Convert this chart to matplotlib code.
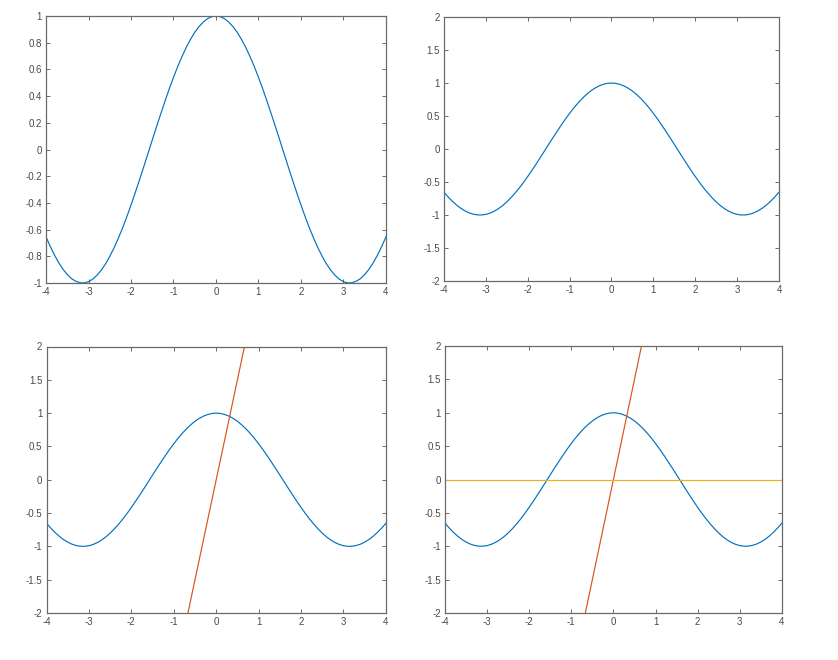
import matplotlib
matplotlib.use("Agg")
import matplotlib.pyplot as plt

# Curve values (x step 0.1 from -4 to 4)
x_vals = [-4.0, -3.9, -3.8, -3.7, -3.6, -3.5, -3.4, -3.3, -3.2, -3.1,
          -3.0, -2.9, -2.8, -2.7, -2.6, -2.5, -2.4, -2.3, -2.2, -2.1,
          -2.0, -1.9, -1.8, -1.7, -1.6, -1.5, -1.4, -1.3, -1.2, -1.1,
          -1.0, -0.9, -0.8, -0.7, -0.6, -0.5, -0.4, -0.3, -0.2, -0.1,
          0.0,
          0.1, 0.2, 0.3, 0.4, 0.5, 0.6, 0.7, 0.8, 0.9, 1.0,
          1.1, 1.2, 1.3, 1.4, 1.5, 1.6, 1.7, 1.8, 1.9, 2.0,
          2.1, 2.2, 2.3, 2.4, 2.5, 2.6, 2.7, 2.8, 2.9, 3.0,
          3.1, 3.2, 3.3, 3.4, 3.5, 3.6, 3.7, 3.8, 3.9, 4.0]
curve_vals = [-0.654, -0.726, -0.791, -0.848, -0.897, -0.936, -0.967, -0.987, -0.998, -0.999,
              -0.990, -0.971, -0.942, -0.904, -0.857, -0.801, -0.737, -0.666, -0.589, -0.505,
              -0.416, -0.323, -0.227, -0.129, -0.029, 0.071, 0.170, 0.267, 0.362, 0.454,
              0.540, 0.622, 0.697, 0.765, 0.825, 0.878, 0.921, 0.955, 0.980, 0.995,
              1.000,
              0.995, 0.980, 0.955, 0.921, 0.878, 0.825, 0.765, 0.697, 0.622, 0.540,
              0.454, 0.362, 0.267, 0.170, 0.071, -0.029, -0.129, -0.227, -0.323, -0.416,
              -0.505, -0.589, -0.666, -0.737, -0.801, -0.857, -0.904, -0.942, -0.971, -0.990,
              -0.999, -0.998, -0.987, -0.967, -0.936, -0.897, -0.848, -0.791, -0.726, -0.654]

# Steep line endpoints (clipped by the axes limits)
steep_x = [-4.0, 4.0]
steep_y = [-12.0, 12.0]

# Horizontal line
flat_x = [-4.0, 4.0]
flat_y = [0.0, 0.0]

xticks = [-4, -3, -2, -1, 0, 1, 2, 3, 4]
yticks_tl = [-1, -0.8, -0.6, -0.4, -0.2, 0, 0.2, 0.4, 0.6, 0.8, 1]
yticks_other = [-2, -1.5, -1, -0.5, 0, 0.5, 1, 1.5, 2]

BLUE = "#0072BD"
RED = "#D95319"
YELLOW = "#EDB120"
AX_COL = "#6a6a6a"
TXT_COL = "#4a4a4a"
LW = 0.85

plt.rcParams['font.family'] = ['Liberation Sans', 'DejaVu Sans']

fig = plt.figure(figsize=(8.38, 6.6), dpi=100)

rects = [
    [0.0549, 0.5712, 0.4057, 0.4045],
    [0.5298, 0.5742, 0.3998, 0.4000],
    [0.0555, 0.0712, 0.4050, 0.4038],
    [0.5310, 0.0712, 0.4020, 0.4045],
]

def fmt(v):
    return "%g" % v

def style(ax, yticks, ylim):
    ax.set_xlim(-4, 4)
    ax.set_ylim(*ylim)
    ax.set_xticks(xticks)
    ax.set_xticklabels([fmt(t) for t in xticks])
    ax.set_yticks(yticks)
    ax.set_yticklabels([fmt(t) for t in yticks])
    for sp in ax.spines.values():
        sp.set_color(AX_COL)
        sp.set_linewidth(0.9)
    ax.tick_params(direction='in', length=3, width=0.7, colors=AX_COL,
                   labelcolor=TXT_COL, labelsize=7, top=True, right=True, pad=3)

axes = [fig.add_axes(r) for r in rects]

ax = axes[0]
ax.plot(x_vals, curve_vals, color=BLUE, lw=LW)
style(ax, yticks_tl, (-1, 1))

ax = axes[1]
ax.plot(x_vals, curve_vals, color=BLUE, lw=LW)
style(ax, yticks_other, (-2, 2))

ax = axes[2]
ax.plot(x_vals, curve_vals, color=BLUE, lw=LW)
ax.plot(steep_x, steep_y, color=RED, lw=LW)
style(ax, yticks_other, (-2, 2))

ax = axes[3]
ax.plot(x_vals, curve_vals, color=BLUE, lw=LW)
ax.plot(steep_x, steep_y, color=RED, lw=LW)
ax.plot(flat_x, flat_y, color=YELLOW, lw=LW)
style(ax, yticks_other, (-2, 2))

fig.savefig("out.png", dpi=100, facecolor="white")
